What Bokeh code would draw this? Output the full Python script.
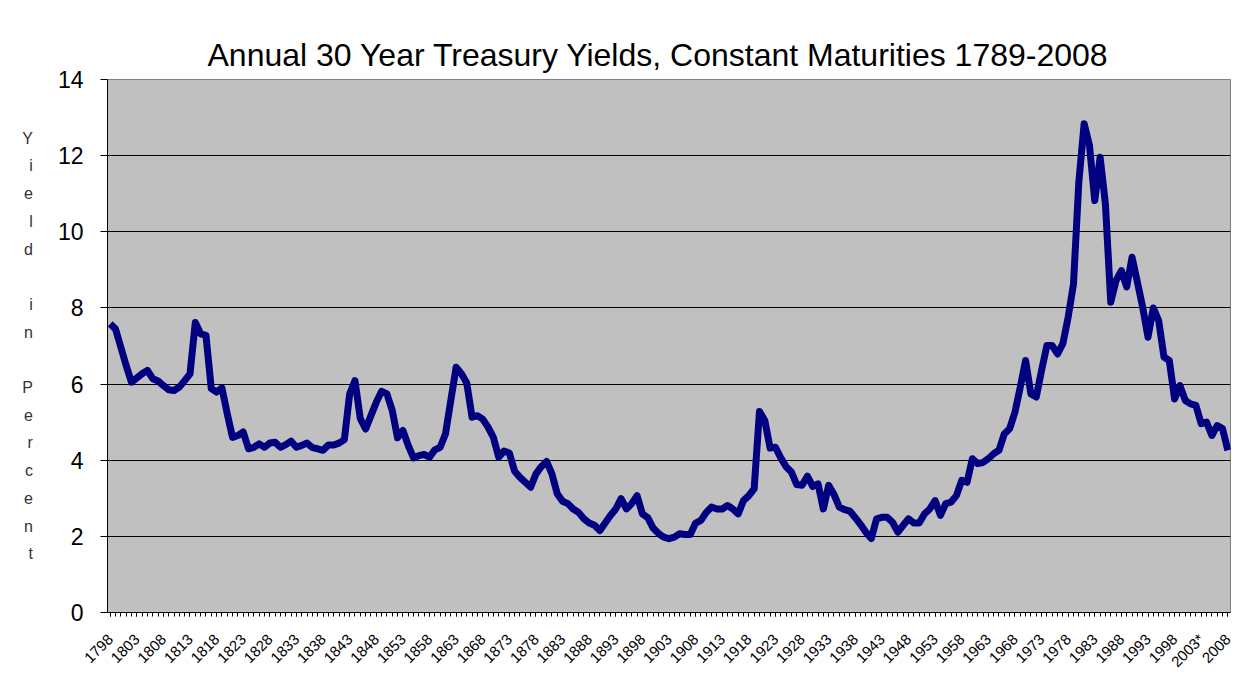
import math
from bokeh.plotting import figure
from bokeh.models import FixedTicker, Range1d, ColumnDataSource
from bokeh.embed import file_html
from bokeh.resources import INLINE

years = list(range(1798, 2009))
yields = [
    7.58, 7.45, 6.97, 6.49, 6.05, 6.16, 6.27, 6.36, 6.14, 6.08,
    5.96, 5.85, 5.83, 5.92, 6.09, 6.27, 7.62, 7.32, 7.28, 5.88,
    5.79, 5.90, 5.22, 4.60, 4.65, 4.74, 4.30, 4.34, 4.43, 4.34,
    4.45, 4.47, 4.34, 4.41, 4.50, 4.34, 4.39, 4.45, 4.33, 4.30,
    4.26, 4.40, 4.40, 4.45, 4.54, 5.74, 6.09, 5.09, 4.82, 5.17,
    5.52, 5.81, 5.74, 5.31, 4.59, 4.78, 4.39, 4.06, 4.12, 4.15,
    4.08, 4.27, 4.34, 4.69, 5.57, 6.44, 6.27, 6.03, 5.13, 5.17,
    5.08, 4.87, 4.60, 4.08, 4.24, 4.19, 3.71, 3.55, 3.42, 3.29,
    3.64, 3.83, 3.97, 3.64, 3.12, 2.92, 2.86, 2.72, 2.63, 2.46,
    2.35, 2.29, 2.15, 2.35, 2.55, 2.72, 2.99, 2.72, 2.86, 3.07,
    2.59, 2.49, 2.22, 2.08, 1.98, 1.94, 1.98, 2.07, 2.05, 2.05,
    2.35, 2.42, 2.63, 2.77, 2.72, 2.72, 2.81, 2.72, 2.59, 2.94,
    3.07, 3.25, 5.28, 5.04, 4.32, 4.34, 4.06, 3.83, 3.69, 3.36,
    3.34, 3.58, 3.31, 3.38, 2.72, 3.34, 3.10, 2.77, 2.70, 2.66,
    2.49, 2.31, 2.11, 1.94, 2.46, 2.50, 2.50, 2.37, 2.11, 2.29,
    2.46, 2.35, 2.35, 2.59, 2.72, 2.94, 2.55, 2.86, 2.90, 3.07,
    3.47, 3.42, 4.04, 3.91, 3.94, 4.04, 4.17, 4.26, 4.69, 4.83,
    5.26, 5.92, 6.62, 5.74, 5.66, 6.36, 7.01, 7.01, 6.79, 7.06,
    7.76, 8.63, 11.30, 12.84, 12.27, 10.82, 11.96, 10.73, 8.15, 8.72,
    8.98, 8.55, 9.33, 8.68, 8.02, 7.23, 8.00, 7.67, 6.71, 6.62,
    5.61, 5.96, 5.57, 5.48, 5.44, 4.96, 5.00, 4.65, 4.91, 4.83,
    4.26,
]
tick_years = [1798, 1803, 1808, 1813, 1818, 1823, 1828, 1833, 1838, 1843,
              1848, 1853, 1858, 1863, 1868, 1873, 1878, 1883, 1888, 1893,
              1898, 1903, 1908, 1913, 1918, 1923, 1928, 1933, 1938, 1943,
              1948, 1953, 1958, 1963, 1968, 1973, 1978, 1983, 1988, 1993,
              1998, 2003, 2008]
tick_labels = ["1798", "1803", "1808", "1813", "1818", "1823", "1828", "1833",
               "1838", "1843", "1848", "1853", "1858", "1863", "1868", "1873",
               "1878", "1883", "1888", "1893", "1898", "1903", "1908", "1913",
               "1918", "1923", "1928", "1933", "1938", "1943", "1948", "1953",
               "1958", "1963", "1968", "1973", "1978", "1983", "1988", "1993",
               "1998", "2003*", "2008"]
y_ticks = [0, 2, 4, 6, 8, 10, 12, 14]

FONT = "Liberation Sans"

p = figure(width=1252, height=687,
           x_range=Range1d(years[0] - 0.5, years[-1] + 0.5),
           y_range=Range1d(0, 14),
           output_backend="svg", toolbar_location=None,
           min_border_left=107, min_border_right=22,
           min_border_top=79, min_border_bottom=75)

p.background_fill_color = "#C0C0C0"
p.border_fill_color = "white"
p.outline_line_color = "#808080"

p.title.text = "Annual 30 Year Treasury Yields, Constant Maturities 1789-2008"
p.title.align = "left"
p.title.offset = 100
p.title.text_font = FONT
p.title.text_font_size = "32px"
p.title.text_font_style = "normal"
p.title.text_color = "black"
p.title.standoff = 14

src = ColumnDataSource(dict(year=years, yld=yields))
p.line("year", "yld", source=src, line_color="#000080", line_width=7,
       line_join="round")

# x axis
xa = p.xaxis[0]
xa.ticker = FixedTicker(ticks=tick_years, minor_ticks=years)
xa.major_label_overrides = {y: lab for y, lab in zip(tick_years, tick_labels)}
xa.major_label_orientation = math.pi / 4
xa.major_label_text_font = FONT
xa.major_label_text_font_size = "15px"
xa.major_label_text_color = "black"
xa.major_tick_out = 4
xa.major_tick_in = 0
xa.minor_tick_out = 4
xa.minor_tick_in = 0
xa.major_tick_line_color = "black"
xa.minor_tick_line_color = "black"
xa.axis_line_color = "black"
xa.major_label_standoff = 20

# y axis
ya = p.yaxis[0]
ya.ticker = FixedTicker(ticks=y_ticks)
ya.major_label_text_font = FONT
ya.major_label_text_font_size = "23px"
ya.major_label_text_color = "black"
ya.major_tick_out = 7
ya.major_tick_in = 0
ya.minor_tick_line_color = None
ya.major_tick_line_color = "black"
ya.axis_line_color = "black"
ya.major_label_standoff = 17
ya.axis_label = "Y\ni\ne\nl\nd\n \ni\nn\n \nP\ne\nr\nc\ne\nn\nt"
ya.axis_label_orientation = "horizontal"
ya.axis_label_text_font = FONT
ya.axis_label_text_font_size = "16px"
ya.axis_label_text_font_style = "normal"
ya.axis_label_text_color = "#333333"
ya.axis_label_text_line_height = 1.63
ya.axis_label_standoff = 22

p.xgrid.grid_line_color = None
p.ygrid.ticker = FixedTicker(ticks=y_ticks)
p.ygrid.grid_line_color = "black"
p.ygrid.grid_line_width = 1

open("out.html", "w").write(file_html(p, INLINE))
